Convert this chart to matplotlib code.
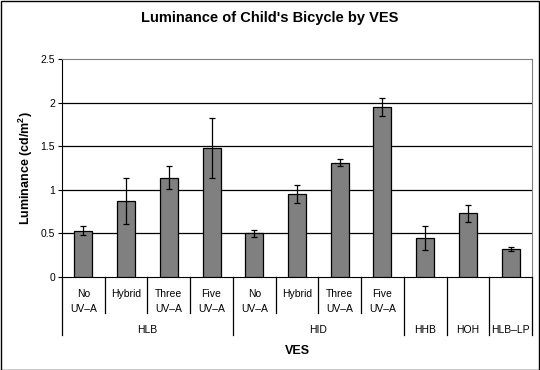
import numpy as np
import matplotlib
matplotlib.use("Agg")
import matplotlib.pyplot as plt
from matplotlib.patches import Rectangle

plt.rcParams['font.family'] = ['Liberation Sans', 'DejaVu Sans']

# data
sub_labels = ["No\nUV–A", "Hybrid", "Three\nUV–A", "Five\nUV–A",
              "No\nUV–A", "Hybrid", "Three\nUV–A", "Five\nUV–A",
              "", "", ""]
groups = ["HLB", "HID", "HHB", "HOH", "HLB–LP"]
group_sizes = [4, 4, 1, 1, 1]
luminance = [0.53, 0.87, 1.14, 1.48, 0.50, 0.95, 1.31, 1.95, 0.45, 0.73, 0.32]
errors = [0.05, 0.26, 0.135, 0.34, 0.04, 0.10, 0.038, 0.10, 0.14, 0.10, 0.023]

W, H = 540, 370
fig = plt.figure(figsize=(W / 100, H / 100), dpi=100)
L, R, T, B = 62, 532, 59, 277
ax = fig.add_axes([L / W, (H - B) / H, (R - L) / W, (B - T) / H])

x = np.arange(len(luminance))
ax.bar(x, luminance, width=0.42, color="#808080", edgecolor="black", linewidth=0.9, zorder=3)
ax.errorbar(x, luminance, yerr=errors, fmt="none", ecolor="black", elinewidth=0.9,
            capsize=2.2, capthick=0.9, zorder=4)

ax.set_xlim(-0.5, len(luminance) - 0.5)
ax.set_ylim(0, 2.5)
ax.set_yticks([0, 0.5, 1, 1.5, 2, 2.5])
ax.set_yticklabels(["0", "0.5", "1", "1.5", "2", "2.5"], fontsize=7.5)
ax.tick_params(axis="y", length=3, width=0.8, pad=2)
ax.set_xticks([])
for yv in [0.5, 1, 1.5, 2]:
    ax.axhline(yv, color="black", linewidth=0.9, zorder=1)
for s in ["top", "right"]:
    ax.spines[s].set_color("#808080")
for s in ["left", "bottom"]:
    ax.spines[s].set_color("black")

ax.set_ylabel("Luminance (cd/m$^\\mathregular{2}$)", fontsize=9, fontweight="bold", labelpad=4)


def yax(px):
    # pixel row -> axes fraction
    return (B - px) / (B - T)


tr = ax.get_xaxis_transform()

# first level labels
for i, lab in enumerate(sub_labels):
    for k, ln in enumerate(lab.split("\n")):
        if ln:
            ax.text(i, yax(294 + 14.5 * k), ln, transform=tr, ha="center", va="center",
                    fontsize=7.5, clip_on=False)

# second level labels + short separators
start = 0
for g, n in zip(groups, group_sizes):
    ax.text(start + (n - 1) / 2, yax(330), g, transform=tr, ha="center", va="center",
            fontsize=7.5, clip_on=False)
    for j in range(1, n):
        ax.plot([start + j - 0.5] * 2, [yax(B), yax(313)], transform=tr, color="black",
                linewidth=0.9, clip_on=False)
    start += n

bounds = np.concatenate([[0], np.cumsum(group_sizes)]) - 0.5
for b in bounds:
    ax.plot([b, b], [yax(B), yax(335)], transform=tr, color="black", linewidth=0.9, clip_on=False)

fig.text((L + R) / 2 / W, 1 - 351 / H, "VES", ha="center", va="center", fontsize=9, fontweight="bold")
fig.text(0.5, 1 - 18 / H, "Luminance of Child's Bicycle by VES", ha="center", va="center",
         fontsize=10.5, fontweight="bold")

fig.patches.append(Rectangle((0.5 / W, 0.5 / H), 1 - 1.5 / W, 1 - 1.5 / H, transform=fig.transFigure,
                             fill=False, edgecolor="black", linewidth=1))

fig.savefig("out.png", dpi=100)
